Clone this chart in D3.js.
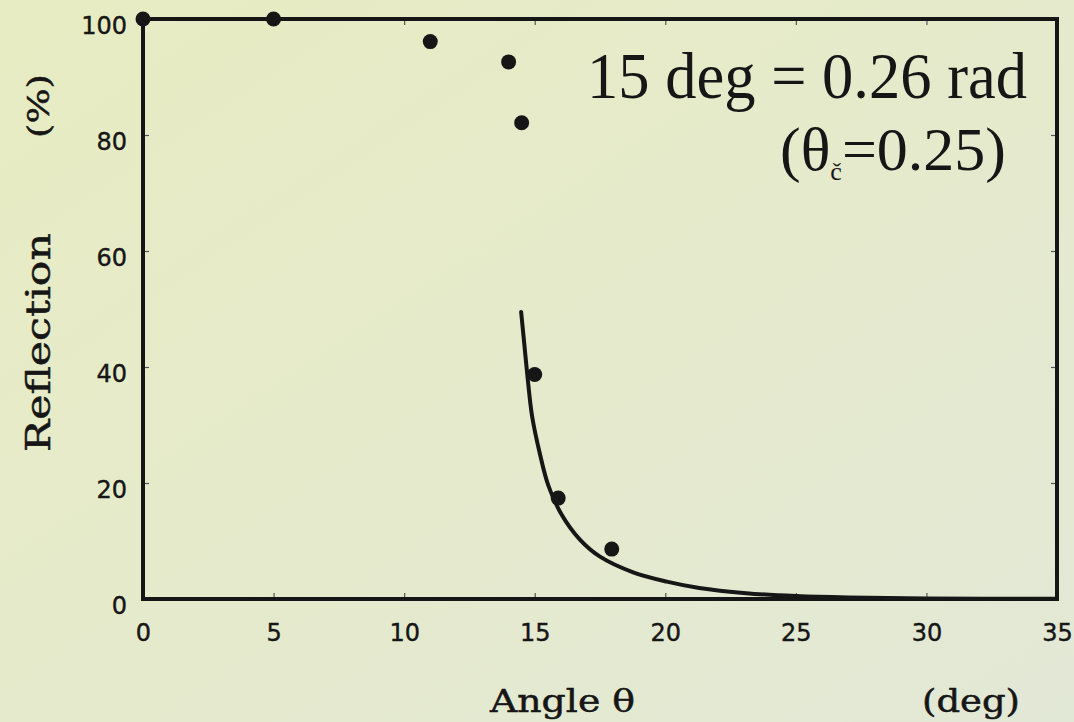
<!DOCTYPE html>
<html>
<head>
<meta charset="utf-8">
<script src="https://cdn.jsdelivr.net/npm/d3@7"></script>
<style>
  html, body { margin: 0; padding: 0; background: #e6ebcc; }
  svg { display: block; }
</style>
</head>
<body>
<svg id="chart"></svg>
<script>
// measured points (angle in deg, reflection in %)
const pointAngles = [0, 5, 11.0, 14.0, 14.5, 15.0, 15.9, 17.95];
const pointReflection = [100, 100, 96.1, 92.6, 82.1, 38.7, 17.4, 8.6];

// calculated curve
const curveAngles = [14.48, 14.6, 14.72, 14.9, 15.2, 15.52, 16.0, 16.74, 17.5, 18.77, 20.06, 21.3, 23.1, 25, 27, 30, 35];
const curveReflection = [49.5, 44.0, 38.5, 31.5, 25.0, 19.6, 14.8, 10.2, 7.3, 4.6, 3.0, 1.9, 1.0, 0.5, 0.25, 0.1, 0.03];

const xTicks = [0, 5, 10, 15, 20, 25, 30, 35];
const yTicks = [0, 20, 40, 60, 80, 100];

const width = 1074, height = 722;
const plotLeft = 143, plotRight = 1057, plotTop = 19, plotBottom = 599;
const ink = "#161616";

const svg = d3.select("#chart")
  .attr("width", width)
  .attr("height", height);

// paper background
const defs = svg.append("defs");
const grad = defs.append("linearGradient")
  .attr("id", "paper")
  .attr("x1", "0").attr("y1", "0")
  .attr("x2", "1").attr("y2", "1");
grad.append("stop").attr("offset", "0%").attr("stop-color", "#e8ecc2");
grad.append("stop").attr("offset", "55%").attr("stop-color", "#e5eacd");
grad.append("stop").attr("offset", "100%").attr("stop-color", "#e2e8d6");
svg.append("rect")
  .attr("width", width).attr("height", height)
  .attr("fill", "url(#paper)");

const x = d3.scaleLinear().domain([0, 35]).range([plotLeft, plotRight]);
const y = d3.scaleLinear().domain([0, 100]).range([plotBottom, plotTop]);

// axes with inward ticks
const tickFont = "'DejaVu Sans', Verdana, sans-serif";

const gx = svg.append("g")
  .attr("transform", `translate(0, ${plotBottom})`)
  .call(d3.axisBottom(x).tickValues(xTicks).tickSize(-6).tickPadding(25).tickFormat(d3.format("d")));
const gy = svg.append("g")
  .attr("transform", `translate(${plotLeft}, 0)`)
  .call(d3.axisLeft(y).tickValues(yTicks).tickSize(-6).tickPadding(16).tickFormat(d3.format("d")));
const gt = svg.append("g")
  .attr("transform", `translate(0, ${plotTop})`)
  .call(d3.axisTop(x).tickValues(xTicks).tickSize(-6).tickFormat(""));
const gr = svg.append("g")
  .attr("transform", `translate(${plotRight}, 0)`)
  .call(d3.axisRight(y).tickValues(yTicks).tickSize(-6).tickFormat(""));

[gx, gy, gt, gr].forEach(g => {
  g.select(".domain").remove();
  g.selectAll(".tick line").attr("stroke", "#555").attr("stroke-width", 1.2);
  g.selectAll(".tick text")
    .attr("fill", ink)
    .attr("stroke", ink)
    .attr("stroke-width", 0.4)
    .style("font-family", tickFont)
    .style("font-size", "24px");
});
gy.selectAll(".tick text").attr("dy", "0.6em");

// frame
svg.append("rect")
  .attr("x", plotLeft).attr("y", plotTop)
  .attr("width", plotRight - plotLeft).attr("height", plotBottom - plotTop)
  .attr("fill", "none")
  .attr("stroke", ink)
  .attr("stroke-width", 4);

// curve
const line = d3.line()
  .x(d => x(d[0]))
  .y(d => y(d[1]))
  .curve(d3.curveCatmullRom.alpha(0.5));

svg.append("path")
  .datum(curveAngles.map((a, i) => [a, curveReflection[i]]))
  .attr("d", line)
  .attr("fill", "none")
  .attr("stroke", ink)
  .attr("stroke-width", 4)
  .attr("stroke-linecap", "round");

// points
svg.append("g")
  .selectAll("circle")
  .data(pointAngles.map((a, i) => [a, pointReflection[i]]))
  .enter()
  .append("circle")
  .attr("cx", d => x(d[0]))
  .attr("cy", d => y(d[1]))
  .attr("r", 7.5)
  .attr("fill", ink);

// axis titles
const serif = "'DejaVu Serif', 'Liberation Serif', serif";

function title(sel) {
  return sel.attr("fill", ink)
    .attr("stroke", ink)
    .attr("stroke-width", 0.5)
    .attr("lengthAdjust", "spacingAndGlyphs")
    .style("font-family", serif);
}

svg.append("text")
  .attr("transform", "translate(50, 452) rotate(-90)")
  .attr("textLength", 219)
  .call(title)
  .style("font-size", "34px")
  .text("Reflection");

svg.append("text")
  .attr("transform", "translate(49, 138) rotate(-90)")
  .attr("textLength", 64)
  .call(title)
  .style("font-size", "30px")
  .text("(%)");

svg.append("text")
  .attr("x", 490).attr("y", 712)
  .attr("textLength", 145)
  .call(title)
  .style("font-size", "32px")
  .text("Angle θ");

svg.append("text")
  .attr("x", 922).attr("y", 712)
  .attr("textLength", 98)
  .call(title)
  .style("font-size", "32px")
  .text("(deg)");

// annotation
const times = "'Liberation Serif', 'Times New Roman', serif";

svg.append("text")
  .attr("x", 587).attr("y", 98)
  .attr("textLength", 440)
  .attr("lengthAdjust", "spacingAndGlyphs")
  .attr("fill", ink)
  .style("font-family", times)
  .style("font-size", "66px")
  .text("15 deg = 0.26 rad");

const note = svg.append("text")
  .attr("x", 780).attr("y", 170)
  .attr("fill", ink)
  .style("font-family", times)
  .style("font-size", "62px");
note.append("tspan").text("(θ");
note.append("tspan")
  .attr("dy", 10)
  .style("font-size", "26px")
  .text("č");
note.append("tspan")
  .attr("dy", -10)
  .text("=0.25)");
</script>
</body>
</html>
